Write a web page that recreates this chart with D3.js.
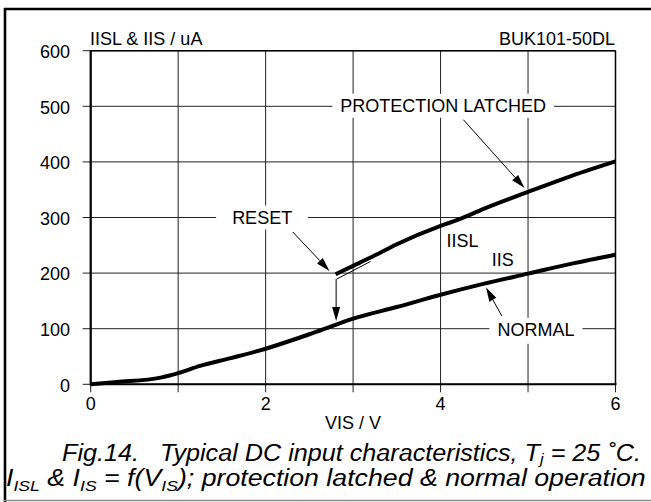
<!DOCTYPE html>
<html><head><meta charset="utf-8">
<script src="https://cdn.jsdelivr.net/npm/d3@7"></script>
<style>
body{margin:0;background:#fff}
svg{display:block}
text{font-family:Arial,"Liberation Sans",Helvetica,sans-serif;fill:#000}
</style>
</head><body>
<svg id="c" width="651" height="502"></svg>
<script>
// ---- data ----
const xTicks = [0, 1, 2, 3, 4, 5, 6];
const xTickLabels = ["0", "", "2", "", "4", "", "6"];
const yTicks = [0, 100, 200, 300, 400, 500, 600];
const yTickLabels = ["0", "100", "200", "300", "400", "500", "600"];
// IIS (normal operation)
const vIS = [0, 0.3, 0.8, 1.0, 1.25, 1.6, 2.0, 2.5, 2.8, 3.0, 3.5, 4.0, 4.5, 5.0, 5.5, 6.0];
const iIS = [0, 4, 12, 20, 33, 47, 64, 90, 107, 118, 139, 161, 181, 199, 217, 233];
// IISL (protection latched)
const vISL = [2.8, 3.0, 3.2, 3.5, 4.0, 4.2, 4.5, 5.0, 5.5, 6.0];
const iISL = [198, 213, 228, 252, 285, 296, 316, 346, 375, 401];
const xTitle = "VIS / V";
const yTitle = "IISL & IIS / uA";
const partNo = "BUK101-50DL";

// ---- layout ----
const svg = d3.select("#c");
const x = d3.scaleLinear().domain([0, 6]).range([90.7, 615.5]);
const y = d3.scaleLinear().domain([0, 600]).range([384.3, 50.7]);

// outer frame
svg.append("line").attr("x1", 4).attr("x2", 651).attr("y1", 9).attr("y2", 9).attr("stroke", "#000").attr("stroke-width", 2.6);
svg.append("line").attr("x1", 5).attr("x2", 5).attr("y1", 8).attr("y2", 502).attr("stroke", "#000").attr("stroke-width", 2.6);
svg.append("line").attr("x1", 4).attr("x2", 651).attr("y1", 500.5).attr("y2", 500.5).attr("stroke", "#8a8a8a").attr("stroke-width", 1.5);

// grid
const g = svg.append("g");
g.selectAll(".vg").data(xTicks).join("line")
  .attr("x1", d => x(d)).attr("x2", d => x(d)).attr("y1", y(600)).attr("y2", y(0) + 8)
  .attr("stroke", "#222").attr("stroke-width", 1);
g.selectAll(".hg").data(yTicks).join("line")
  .attr("x1", x(0) - 8).attr("x2", x(6)).attr("y1", d => y(d)).attr("y2", d => y(d))
  .attr("stroke", "#222").attr("stroke-width", 1);

// plot frame
g.append("line").attr("x1", x(0)).attr("x2", x(0)).attr("y1", y(600)).attr("y2", y(0) + 1).attr("stroke", "#000").attr("stroke-width", 2.2);
g.append("line").attr("x1", x(0)).attr("x2", x(6) + 1).attr("y1", y(0)).attr("y2", y(0)).attr("stroke", "#000").attr("stroke-width", 2);
g.append("line").attr("x1", x(0)).attr("x2", x(6)).attr("y1", y(600)).attr("y2", y(600)).attr("stroke", "#000").attr("stroke-width", 1.5);
g.append("line").attr("x1", x(6)).attr("x2", x(6)).attr("y1", y(600)).attr("y2", y(0)).attr("stroke", "#000").attr("stroke-width", 1.5);

// tick labels
svg.selectAll(".yl").data(yTicks).join("text")
  .attr("x", 70).attr("y", d => y(d) + 1).attr("dy", "0.35em")
  .attr("text-anchor", "end").attr("font-size", 18).text((d, i) => yTickLabels[i]);
svg.selectAll(".xl").data(xTicks).join("text")
  .attr("x", d => x(d)).attr("y", 409.5)
  .attr("text-anchor", "middle").attr("font-size", 18).text((d, i) => xTickLabels[i]);
svg.append("text").attr("x", x(3)).attr("y", 429).attr("text-anchor", "middle").attr("font-size", 18).text(xTitle);
svg.append("text").attr("x", 90).attr("y", 45).attr("font-size", 18).text(yTitle);
svg.append("text").attr("x", 615).attr("y", 44.5).attr("text-anchor", "end").attr("font-size", 18).text(partNo);

// labels with white backgrounds
function boxLabel(txt, vx, vy, padX, padY) {
  const t = svg.append("text").attr("x", x(vx)).attr("y", y(vy)).attr("dy", "0.35em")
    .attr("text-anchor", "middle").attr("font-size", 18).text(txt);
  const b = t.node().getBBox();
  svg.insert("rect", () => t.node())
    .attr("x", b.x - padX).attr("y", y(vy) - 12).attr("width", b.width + 2 * padX).attr("height", 24 + 2 * padY)
    .attr("fill", "#fff");
}

// curves
const line = d3.line().x(d => x(d[0])).y(d => y(d[1])).curve(d3.curveMonotoneX);
const dIS = vIS.map((v, i) => [v, iIS[i]]);
const dISL = vISL.map((v, i) => [v, iISL[i]]);
svg.append("path").attr("d", line(dIS)).attr("fill", "none").attr("stroke", "#000").attr("stroke-width", 4).attr("stroke-linejoin", "round");
svg.append("path").attr("d", line(dISL)).attr("fill", "none").attr("stroke", "#000").attr("stroke-width", 4).attr("stroke-linejoin", "round");

boxLabel("RESET", 1.96, 300, 16, 0);
boxLabel("PROTECTION LATCHED", 4.03, 501, 8, 0);
boxLabel("NORMAL", 5.09, 98, 8, 1);
svg.append("text").attr("x", x(4.25)).attr("y", y(259)).attr("dy", "0.35em").attr("text-anchor", "middle").attr("font-size", 18).text("IISL");
svg.append("text").attr("x", x(4.71)).attr("y", y(225)).attr("dy", "0.35em").attr("text-anchor", "middle").attr("font-size", 18).text("IIS");

// arrows
function arrow(v0, i0, v1, i1, headLen, headW) {
  const x0 = x(v0), y0 = y(i0), x1 = x(v1), y1 = y(i1);
  const a = Math.atan2(y1 - y0, x1 - x0);
  const bx = x1 - headLen * Math.cos(a), by = y1 - headLen * Math.sin(a);
  svg.append("line").attr("x1", x0).attr("y1", y0).attr("x2", bx).attr("y2", by).attr("stroke", "#000").attr("stroke-width", 1);
  const nx = -Math.sin(a) * headW / 2, ny = Math.cos(a) * headW / 2;
  svg.append("polygon").attr("points", [[x1, y1], [bx + nx, by + ny], [bx - nx, by - ny]].map(p => p.join(",")).join(" ")).attr("fill", "#000");
}
arrow(2.31, 274, 2.73, 204, 14, 8);
arrow(4.26, 476, 4.96, 353, 14, 8);
arrow(4.70, 123, 4.52, 174, 14, 8);
// reset path: thin line parallel to IISL start and vertical drop to IIS
svg.append("line").attr("x1", x(2.81)).attr("y1", y(189)).attr("x2", x(3.2)).attr("y2", y(221)).attr("stroke", "#000").attr("stroke-width", 1);
arrow(2.806, 189, 2.806, 114, 14, 8);

// caption
function fitText(parts, x0, x1, base, size, sub) {
  const t = svg.append("text").attr("font-size", size).attr("font-style", "italic").attr("xml:space", "preserve").style("white-space", "pre");
  parts.forEach(p => {
    const s = t.append("tspan").text(p[0]);
    if (p[1]) s.attr("font-size", size * 0.66).attr("dy", sub);
    else if (p[2]) s.attr("dy", -sub);
  });
  const w = t.node().getComputedTextLength();
  const k = (x1 - x0) / w;
  t.attr("transform", `translate(${x0},${base}) scale(${k},1)`);
}
fitText([["Fig.14.   Typical DC input characteristics, T"], ["j", 1], [" = 25 ˚C.", 0, 1]], 62, 641, 461, 23, 3);
fitText([["I"], ["ISL", 1], [" & I", 0, 1], ["IS", 1], [" = f(V", 0, 1], ["IS", 1], ["); protection latched & normal operation", 0, 1]], 6, 646, 486, 23, 5);
</script>
</body></html>
